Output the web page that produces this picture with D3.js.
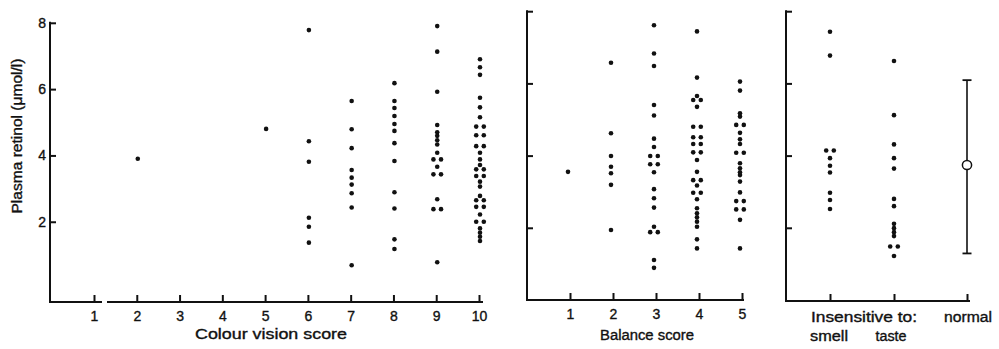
<!DOCTYPE html>
<html>
<head>
<meta charset="utf-8">
<script src="https://cdn.jsdelivr.net/npm/d3@7"></script>
<style>
  body { margin: 0; background: #fff; }
  svg text { font-family: "Liberation Sans", Arial, sans-serif; fill: #111; stroke: #111; stroke-width: 0.35px; }
</style>
</head>
<body>
<svg id="chart" width="999" height="349"></svg>
<script>
// plasma retinol (umol/l) per score
const colourScores = [1, 2, 3, 4, 5, 6, 7, 8, 9, 10];
const colourRetinol = [
  [],
  [3.90],
  [],
  [],
  [4.80],
  [7.78, 4.43, 3.81, 2.12, 1.85, 1.37],
  [5.64, 4.79, 4.22, 3.56, 3.33, 3.12, 2.86, 2.43, 0.69],
  [6.18, 5.64, 5.43, 5.19, 4.95, 4.74, 4.37, 3.83, 2.89, 2.40, 1.47, 1.18],
  [7.90, 7.13, 5.92, 4.92, 4.70, 4.59, 4.46, 4.33, 4.08, 3.88, 3.88, 3.66, 3.43, 3.43, 2.68, 2.38, 2.38, 0.78],
  [6.90, 6.66, 6.43, 5.74, 5.45, 5.15, 4.87, 4.87, 4.61, 4.61, 4.28, 4.28, 4.08, 3.88, 3.71, 3.58, 3.58,
   3.38, 3.38, 3.21, 3.06, 2.78, 2.65, 2.65, 2.45, 2.45, 2.22, 2.00, 2.00, 1.80, 1.67, 1.55, 1.42]
];

const balanceScores = [1, 2, 3, 4, 5];
const balanceRetinol = [
  [3.55],
  [6.57, 4.62, 3.99, 3.69, 3.51, 3.19, 1.94],
  [7.61, 6.83, 6.48, 5.40, 5.11, 4.47, 4.24, 3.99, 3.99, 3.76, 3.76, 3.54, 3.07, 2.82, 2.56, 2.03,
   1.88, 1.88, 1.11, 0.89],
  [7.44, 6.16, 5.65, 5.54, 5.54, 5.35, 4.80, 4.80, 4.51, 4.51, 4.32, 4.32, 4.09, 4.09, 3.88, 3.55,
   3.32, 3.32, 3.17, 2.97, 2.97, 2.79, 2.54, 2.40, 2.29, 2.17, 2.03, 1.68, 1.43],
  [6.05, 5.80, 5.17, 5.08, 4.85, 4.85, 4.63, 4.45, 4.32, 4.08, 4.08, 3.79, 3.65, 3.54, 3.46, 3.28,
   2.98, 2.74, 2.74, 2.51, 2.51, 2.22, 1.43]
];

const senseGroups = ["smell", "taste", "normal"];
const smellRetinol = [7.43, 6.77, 4.14, 4.14, 3.93, 3.72, 3.53, 2.97, 2.77, 2.52];
const tasteRetinol = [6.62, 5.12, 4.31, 3.93, 3.64, 2.80, 2.60, 2.11, 1.99, 1.88, 1.77, 1.48, 1.48, 1.22];
const normalMean = 3.74;
const normalRange = [1.29, 6.09];

const yTicks = [2, 4, 6, 8];

const svg = d3.select("#chart");
const ink = "#111";

// scales (the left panel sits a little differently in the scan)
const yLeft = d3.scaleLinear().domain([-0.42, 8]).range([302, 22.8]);
const yRight = d3.scaleLinear().domain([0, 8]).range([300, 11.2]);
const xColour = d3.scaleLinear().domain([1, 10]).range([94, 479]);
const xBalance = d3.scaleLinear().domain([1, 5]).range([570, 742]);
const xSense = d3.scaleOrdinal().domain(senseGroups).range([830, 894, 967]);

function line(x1, y1, x2, y2, w) {
  svg.append("line")
    .attr("x1", x1).attr("y1", y1).attr("x2", x2).attr("y2", y2)
    .attr("stroke", ink).attr("stroke-width", w || 2);
}

function yAxis(scale, x, labels) {
  const g = svg.append("g")
    .attr("transform", "translate(" + x + ",0)")
    .call(d3.axisLeft(scale).tickValues(yTicks).tickSizeInner(-6).tickSizeOuter(0)
      .tickPadding(labels ? 4 : 0).tickFormat(labels ? d3.format("d") : ""));
  g.select(".domain").remove();
  g.selectAll(".tick line").attr("stroke", ink).attr("stroke-width", 2);
  g.selectAll(".tick text").attr("font-size", 14).attr("fill", ink);
  line(x, scale.range()[0] + 1, x, scale.range()[1] - 1);
}

function xAxis(scale, values, y, fmt) {
  const g = svg.append("g")
    .attr("transform", "translate(0," + y + ")")
    .call(d3.axisBottom(scale).tickValues(values).tickSizeInner(-7).tickSizeOuter(0)
      .tickPadding(9).tickFormat(fmt));
  g.select(".domain").remove();
  g.selectAll(".tick line").attr("stroke", ink).attr("stroke-width", 2);
  g.selectAll(".tick text").attr("font-size", 14).attr("fill", ink);
  return g;
}

// axes
yAxis(yLeft, 50, true);
xAxis(xColour, colourScores, 302, d3.format("d"));
line(49, 302, 102, 302);
line(107, 302, 483, 302);

yAxis(yRight, 527, false);
xAxis(xBalance, balanceScores, 300, d3.format("d"));
line(526, 300, 744, 300);

yAxis(yRight, 786, false);
xAxis(xSense, senseGroups, 301, () => "");
line(785, 301, 970, 301);

// axis titles
function label(txt, x, y, len, rot) {
  const t = svg.append("text")
    .attr("x", x).attr("y", y)
    .attr("text-anchor", "middle")
    .attr("font-size", 14)
    .attr("textLength", len).attr("lengthAdjust", "spacingAndGlyphs")
    .text(txt);
  if (rot) t.attr("transform", "rotate(-90," + x + "," + y + ")");
}
label("Colour vision score", 271, 339, 152);
label("Balance score", 647, 340, 94);
label("Insensitive to:", 864, 322, 106);
label("normal", 968, 322, 48);
label("smell", 829, 341, 38);
label("taste", 891, 341, 31);
label("Plasma retinol (\u03bcmol/l)", 22, 136, 155, true);

// dots: equal values in a column are set side by side
function column(values, cx, yScale) {
  const counts = d3.rollup(values, v => v.length, d => d.toFixed(2));
  const seen = new Map();
  values.forEach(v => {
    const k = v.toFixed(2);
    const n = counts.get(k);
    const i = seen.get(k) || 0;
    seen.set(k, i + 1);
    const dx = n > 1 ? (i - (n - 1) / 2) * 7.6 : 0;
    svg.append("circle")
      .attr("cx", cx + dx).attr("cy", yScale(v))
      .attr("r", 2.3).attr("fill", ink);
  });
}

colourRetinol.forEach((vals, i) => column(vals, xColour(colourScores[i]) + 1, yLeft));
balanceRetinol.forEach((vals, i) => column(vals, xBalance(balanceScores[i]) - 2, yRight));
column(smellRetinol, xSense("smell"), yRight);
column(tasteRetinol, xSense("taste"), yRight);

// normal: mean and range
const nx = xSense("normal");
line(nx, yRight(normalRange[0]), nx, yRight(normalRange[1]), 1.6);
line(nx - 4.5, yRight(normalRange[0]), nx + 4.5, yRight(normalRange[0]), 1.8);
line(nx - 4.5, yRight(normalRange[1]), nx + 4.5, yRight(normalRange[1]), 1.8);
svg.append("circle")
  .attr("cx", nx).attr("cy", yRight(normalMean))
  .attr("r", 4.6).attr("fill", "#fff")
  .attr("stroke", ink).attr("stroke-width", 1.5);
</script>
</body>
</html>
